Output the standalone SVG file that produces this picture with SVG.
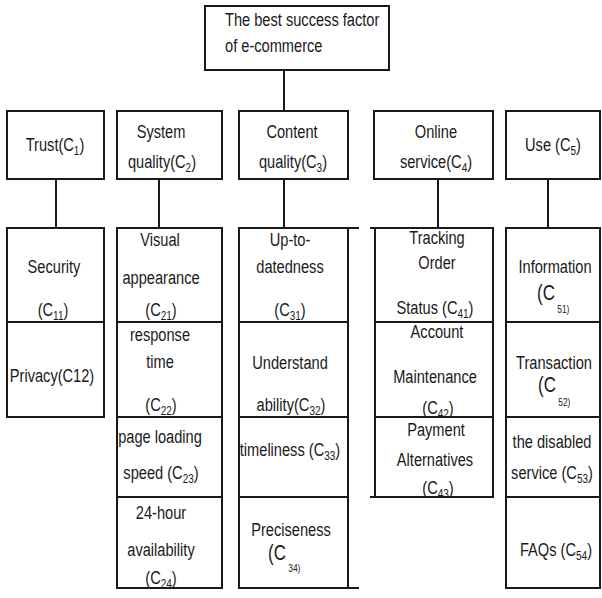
<svg xmlns="http://www.w3.org/2000/svg" width="602" height="598" viewBox="0 0 602 598">
<style>
.b{fill:#fff;stroke:#1a1a1a;stroke-width:2}
.l{stroke:#1a1a1a;stroke-width:2;fill:none}
.t{font-family:"Liberation Sans",Arial,sans-serif;font-size:19px;fill:#1a1a1a;text-anchor:middle}
.st{text-anchor:start}
.s{font-size:13px}
.big{font-size:22px}
.tiny{font-size:11px}
</style>
<rect width="602" height="598" fill="#fff"/>
<g id="connectors">
<line class="l" x1="284" y1="70" x2="284" y2="111"/>
<line class="l" x1="56" y1="179" x2="56" y2="228"/>
<line class="l" x1="159" y1="179" x2="159" y2="228"/>
<line class="l" x1="284" y1="179" x2="284" y2="228"/>
<line class="l" x1="438" y1="179" x2="438" y2="228"/>
<line class="l" x1="548" y1="179" x2="548" y2="228"/>
</g>
<g id="root">
<rect class="b" x="205" y="6" width="184" height="64"/>
<text class="t st" transform="translate(225 26) scale(.77 1)">The best success factor</text>
<text class="t st" transform="translate(225 52) scale(.77 1)">of e-commerce</text>
</g>
<g id="c1">
<rect class="b" x="7" y="111" width="97" height="68"/>
<text class="t" transform="translate(55 151) scale(.77 1)">Trust(C<tspan class="s" dy="4">1</tspan><tspan dy="-4">)</tspan></text>
</g>
<g id="c2">
<rect class="b" x="117" y="111" width="105" height="68"/>
<text class="t" transform="translate(161 138) scale(.77 1)">System</text>
<text class="t" transform="translate(162 168) scale(.77 1)">quality(C<tspan class="s" dy="4">2</tspan><tspan dy="-4">)</tspan></text>
</g>
<g id="c3">
<rect class="b" x="239" y="111" width="109" height="68"/>
<text class="t" transform="translate(292 138) scale(.77 1)">Content</text>
<text class="t" transform="translate(293 168) scale(.77 1)">quality(C<tspan class="s" dy="4">3</tspan><tspan dy="-4">)</tspan></text>
</g>
<g id="c4">
<rect class="b" x="374" y="111" width="119" height="68"/>
<text class="t" transform="translate(436 138) scale(.77 1)">Online</text>
<text class="t" transform="translate(436 168) scale(.77 1)">service(C<tspan class="s" dy="4">4</tspan><tspan dy="-4">)</tspan></text>
</g>
<g id="c5">
<rect class="b" x="506" y="111" width="94" height="68"/>
<text class="t" transform="translate(553 151) scale(.77 1)">Use (C<tspan class="s" dy="4">5</tspan><tspan dy="-4">)</tspan></text>
</g>
<g id="c11">
<rect class="b" x="7" y="228" width="97" height="94"/>
<text class="t" transform="translate(54 273) scale(.77 1)">Security</text>
<text class="t" transform="translate(53 316) scale(.77 1)">(C<tspan class="s" dy="4">11</tspan><tspan dy="-4">)</tspan></text>
</g>
<g id="c12">
<rect class="b" x="7" y="322" width="97" height="95"/>
<text class="t" transform="translate(52 382) scale(.77 1)">Privacy(C12)</text>
</g>
<g id="c21">
<rect class="b" x="117" y="228" width="105" height="94"/>
<text class="t" transform="translate(160 246) scale(.77 1)">Visual</text>
<text class="t" transform="translate(161 284) scale(.77 1)">appearance</text>
<text class="t" transform="translate(161 316) scale(.77 1)">(C<tspan class="s" dy="4">21</tspan><tspan dy="-4">)</tspan></text>
</g>
<g id="c22">
<rect class="b" x="117" y="322" width="105" height="95"/>
<text class="t" transform="translate(160 341) scale(.77 1)">response</text>
<text class="t" transform="translate(160 368) scale(.77 1)">time</text>
<text class="t" transform="translate(161 411) scale(.77 1)">(C<tspan class="s" dy="4">22</tspan><tspan dy="-4">)</tspan></text>
</g>
<g id="c23">
<rect class="b" x="117" y="417" width="105" height="80"/>
<text class="t" transform="translate(160 443) scale(.77 1)">page loading</text>
<text class="t" transform="translate(161 479) scale(.77 1)">speed (C<tspan class="s" dy="4">23</tspan><tspan dy="-4">)</tspan></text>
</g>
<g id="c24">
<rect class="b" x="117" y="497" width="105" height="91"/>
<text class="t" transform="translate(161 519) scale(.77 1)">24-hour</text>
<text class="t" transform="translate(161 556) scale(.77 1)">availability</text>
<text class="t" transform="translate(161 584) scale(.77 1)">(C<tspan class="s" dy="4">24</tspan><tspan dy="-4">)</tspan></text>
</g>
<g id="c31">
<rect class="b" x="239" y="228" width="109" height="94"/>
<line class="l" x1="348" y1="228" x2="359" y2="228"/>
<text class="t" transform="translate(290 246) scale(.77 1)">Up-to-</text>
<text class="t" transform="translate(290 273) scale(.77 1)">datedness</text>
<text class="t" transform="translate(290 316) scale(.77 1)">(C<tspan class="s" dy="4">31</tspan><tspan dy="-4">)</tspan></text>
</g>
<g id="c32">
<rect class="b" x="239" y="322" width="109" height="95"/>
<text class="t" transform="translate(290 369) scale(.77 1)">Understand</text>
<text class="t" transform="translate(291 411) scale(.77 1)">ability(C<tspan class="s" dy="4">32</tspan><tspan dy="-4">)</tspan></text>
</g>
<g id="c33">
<rect class="b" x="239" y="417" width="109" height="80"/>
<text class="t" transform="translate(290 456) scale(.77 1)">timeliness (C<tspan class="s" dy="4">33</tspan><tspan dy="-4">)</tspan></text>
</g>
<g id="c34">
<rect class="b" x="239" y="497" width="109" height="91"/>
<line class="l" x1="348" y1="588" x2="359" y2="588"/>
<text class="t" transform="translate(291 536) scale(.77 1)">Preciseness</text>
<text class="t st" transform="translate(268 560) scale(.77 1)"><tspan class="big">(C</tspan><tspan class="tiny" dx="3" dy="12">34)</tspan></text>
</g>
<g id="c41">
<rect class="b" x="375" y="228" width="118" height="94"/>
<line class="l" x1="370" y1="228" x2="375" y2="228"/>
<text class="t" transform="translate(437 244) scale(.77 1)">Tracking</text>
<text class="t" transform="translate(437 269) scale(.77 1)">Order</text>
<text class="t" transform="translate(435 314) scale(.77 1)">Status (C<tspan class="s" dy="4">41</tspan><tspan dy="-4">)</tspan></text>
</g>
<g id="c42">
<rect class="b" x="375" y="322" width="118" height="95"/>
<text class="t" transform="translate(437 338) scale(.77 1)">Account</text>
<text class="t" transform="translate(435 383) scale(.77 1)">Maintenance</text>
<text class="t" transform="translate(438 414) scale(.77 1)">(C<tspan class="s" dy="4">42</tspan><tspan dy="-4">)</tspan></text>
</g>
<g id="c43">
<rect class="b" x="375" y="417" width="118" height="80"/>
<line class="l" x1="370" y1="497" x2="375" y2="497"/>
<text class="t" transform="translate(436 436) scale(.77 1)">Payment</text>
<text class="t" transform="translate(435 466) scale(.77 1)">Alternatives</text>
<text class="t" transform="translate(438 494) scale(.77 1)">(C<tspan class="s" dy="4">43</tspan><tspan dy="-4">)</tspan></text>
</g>
<g id="c51">
<rect class="b" x="506" y="228" width="94" height="94"/>
<text class="t" transform="translate(555 273) scale(.77 1)">Information</text>
<text class="t st" transform="translate(537 300) scale(.77 1)"><tspan class="big">(C</tspan><tspan class="tiny" dx="3" dy="13">51)</tspan></text>
</g>
<g id="c52">
<rect class="b" x="506" y="322" width="94" height="95"/>
<text class="t" transform="translate(554 369) scale(.77 1)">Transaction</text>
<text class="t st" transform="translate(538 392) scale(.77 1)"><tspan class="big">(C</tspan><tspan class="tiny" dx="3" dy="14">52)</tspan></text>
</g>
<g id="c53">
<rect class="b" x="506" y="417" width="94" height="80"/>
<text class="t" transform="translate(552 448) scale(.77 1)">the disabled</text>
<text class="t" transform="translate(552 479) scale(.77 1)">service (C<tspan class="s" dy="4">53</tspan><tspan dy="-4">)</tspan></text>
</g>
<g id="c54">
<rect class="b" x="506" y="497" width="94" height="91"/>
<text class="t" transform="translate(556 556) scale(.77 1)">FAQs (C<tspan class="s" dy="4">54</tspan><tspan dy="-4">)</tspan></text>
</g>
</svg>
